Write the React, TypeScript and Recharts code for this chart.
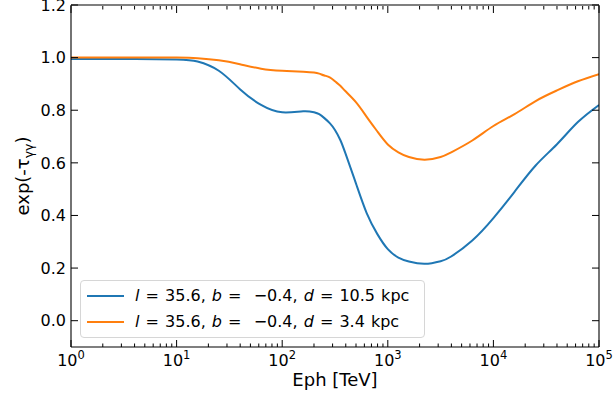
import React from 'react';
import { LineChart, Line, XAxis, YAxis, Legend } from 'recharts';

// Photon energy (TeV)
const energy = [1, 3.16, 10, 15.8, 25.1, 39.8, 63.1, 100, 158, 200, 224, 251, 282, 316, 355, 398, 501, 631, 794, 1000, 1259, 1585, 2239, 3162, 3981, 6310, 10000, 15849, 25119, 39811, 63096, 100000];
// exp(-tau) for d = 10.5 kpc
const seriesFar = [0.995, 0.995, 0.993, 0.985, 0.95, 0.88, 0.82, 0.792, 0.796, 0.792, 0.785, 0.77, 0.751, 0.725, 0.687, 0.635, 0.52, 0.409, 0.33, 0.272, 0.24, 0.225, 0.216, 0.226, 0.244, 0.305, 0.39, 0.49, 0.59, 0.67, 0.755, 0.82];
// exp(-tau) for d = 3.4 kpc
const seriesNear = [1.0, 1.0, 1.0, 0.998, 0.99, 0.975, 0.958, 0.95, 0.946, 0.943, 0.939, 0.932, 0.925, 0.91, 0.893, 0.872, 0.83, 0.775, 0.72, 0.67, 0.64, 0.622, 0.612, 0.622, 0.64, 0.685, 0.74, 0.785, 0.835, 0.875, 0.91, 0.937];

const majorXTicks = [1, 10, 100, 1000, 10000, 100000];
const minorMultipliers = [2, 3, 4, 5, 6, 7, 8, 9];
const yTicks = [0, 0.2, 0.4, 0.6, 0.8, 1.0, 1.2];
const distances = ['10.5', '3.4'];
const seriesColors = ['#1f77b4', '#ff7f0e'];

const allXTicks: number[] = [];
majorXTicks.forEach((m, i) => {
  allXTicks.push(m);
  if (i < majorXTicks.length - 1) minorMultipliers.forEach((k) => allXTicks.push(m * k));
});

const data = energy.map((e, i) => ({ e, far: seriesFar[i], near: seriesNear[i] }));

const FONT = 'DejaVu Sans, sans-serif';
const MAJOR = 7;
const MINOR = 3.5;

const isMajor = (v: number) => majorXTicks.includes(v);

const BottomTick = (props: any) => {
  const { x, y, payload } = props;
  const v = payload.value;
  const major = isMajor(v);
  const len = major ? MAJOR : MINOR;
  return (
    <g>
      <line x1={x} x2={x} y1={y} y2={y - len} stroke="#000" strokeWidth={1} />
      {major && (
        <text x={x} y={y + 19} textAnchor="middle" fontSize={16} fontFamily={FONT} fill="#000">
          10<tspan dy={-7} fontSize={11.5}>{Math.round(Math.log10(v))}</tspan>
        </text>
      )}
    </g>
  );
};

// top axis: tick y is axis position minus 1px axis height
const TopTick = (props: any) => {
  const { x, y, payload } = props;
  const len = isMajor(payload.value) ? MAJOR : MINOR;
  return <line x1={x} x2={x} y1={y + 1} y2={y + 1 + len} stroke="#000" strokeWidth={1} />;
};

const LeftTick = (props: any) => {
  const { x, y, payload } = props;
  return (
    <g>
      <line x1={x} x2={x + MAJOR} y1={y} y2={y} stroke="#000" strokeWidth={1} />
      <text x={x - 5} y={y} dy="0.36em" textAnchor="end" fontSize={16} fontFamily={FONT} fill="#000">
        {Number(payload.value).toFixed(1)}
      </text>
    </g>
  );
};

const RightTick = (props: any) => {
  const { x, y } = props;
  return <line x1={x} x2={x - MAJOR} y1={y} y2={y} stroke="#000" strokeWidth={1} />;
};

const YLabel = (props: any) => {
  const vb = props.viewBox || {};
  const cy = vb.y + vb.height / 2;
  const cx = 23;
  return (
    <text x={cx} y={cy} transform={`rotate(-90 ${cx} ${cy})`} textAnchor="middle" dy="0.35em" fontSize={18} fontFamily={FONT} fill="#000">
      exp(-τ<tspan dy={4} fontSize={12.5}>γγ</tspan><tspan dy={-4}>)</tspan>
    </text>
  );
};

const XLabel = (props: any) => {
  const vb = props.viewBox || {};
  const cx = vb.x + vb.width / 2;
  return (
    <text x={cx} y={386} textAnchor="middle" fontSize={18} fontFamily={FONT} fill="#000">
      Eph [TeV]
    </text>
  );
};

const LegendContent = () => (
  <div
    style={{
      position: 'relative',
      boxSizing: 'border-box',
      width: 345,
      height: 58,
      border: '1px solid #d6d6d6',
      borderRadius: 4,
      background: 'rgba(255,255,255,0.85)',
      fontFamily: FONT,
      fontSize: 16,
      color: '#000',
    }}
  >
    {distances.map((d, i) => (
      <div key={d} style={{ position: 'absolute', left: 0, top: 4 + i * 26, height: 22, width: '100%' }}>
        <svg width={40} height={22} style={{ position: 'absolute', left: 5, top: 0 }}>
          <line x1={1} x2={38} y1={11} y2={11} stroke={seriesColors[i]} strokeWidth={2} />
        </svg>
        <span style={{ position: 'absolute', left: 54, top: 1, whiteSpace: 'nowrap', lineHeight: '20px', wordSpacing: 1 }}>
          <i>l</i> = 35.6, <i>b</i> =&nbsp; &minus;0.4, <i>d</i> = {d} kpc
        </span>
      </div>
    ))}
  </div>
);

export default function App() {
  return (
    <div style={{ position: 'absolute', left: 0, top: 0, width: 615, height: 402, background: '#fff' }}>
      <LineChart width={615} height={402} data={data} margin={{ top: 4, right: 15, bottom: 0, left: 0 }}>
        <XAxis
          dataKey="e"
          type="number"
          scale="log"
          domain={[1, 100000]}
          ticks={allXTicks}
          interval={0}
          tickSize={0}
          tickMargin={0}
          tickLine={false}
          tick={<BottomTick />}
          axisLine={{ stroke: '#000', strokeWidth: 1.1 }}
          height={55}
          allowDataOverflow
          label={<XLabel />}
        />
        <XAxis
          xAxisId="top"
          orientation="top"
          dataKey="e"
          type="number"
          scale="log"
          domain={[1, 100000]}
          ticks={allXTicks}
          interval={0}
          tickSize={0}
          tickMargin={0}
          tickLine={false}
          tick={<TopTick />}
          axisLine={{ stroke: '#000', strokeWidth: 1.1 }}
          height={1}
          allowDataOverflow
        />
        <YAxis
          type="number"
          domain={[-0.1, 1.2]}
          ticks={yTicks}
          interval={0}
          tickSize={0}
          tickMargin={0}
          tickLine={false}
          tick={<LeftTick />}
          axisLine={{ stroke: '#000', strokeWidth: 1.1 }}
          width={71}
          allowDataOverflow
          label={<YLabel />}
        />
        <YAxis
          yAxisId="right"
          orientation="right"
          type="number"
          domain={[-0.1, 1.2]}
          ticks={yTicks}
          interval={0}
          tickSize={0}
          tickMargin={0}
          tickLine={false}
          tick={<RightTick />}
          axisLine={{ stroke: '#000', strokeWidth: 1.1 }}
          width={1}
          allowDataOverflow
        />
        <Line dataKey="far" name="far" type="natural" stroke={seriesColors[0]} strokeWidth={2} dot={false} isAnimationActive={false} />
        <Line xAxisId="top" yAxisId="right" dataKey="near" name="near" type="natural" stroke={seriesColors[1]} strokeWidth={2} dot={false} isAnimationActive={false} />
        <Legend
          layout="vertical"
          align="center"
          verticalAlign="middle"
          content={<LegendContent />}
          wrapperStyle={{ position: 'absolute', left: 80, top: 280, width: 345, height: 58 }}
        />
      </LineChart>
    </div>
  );
}
